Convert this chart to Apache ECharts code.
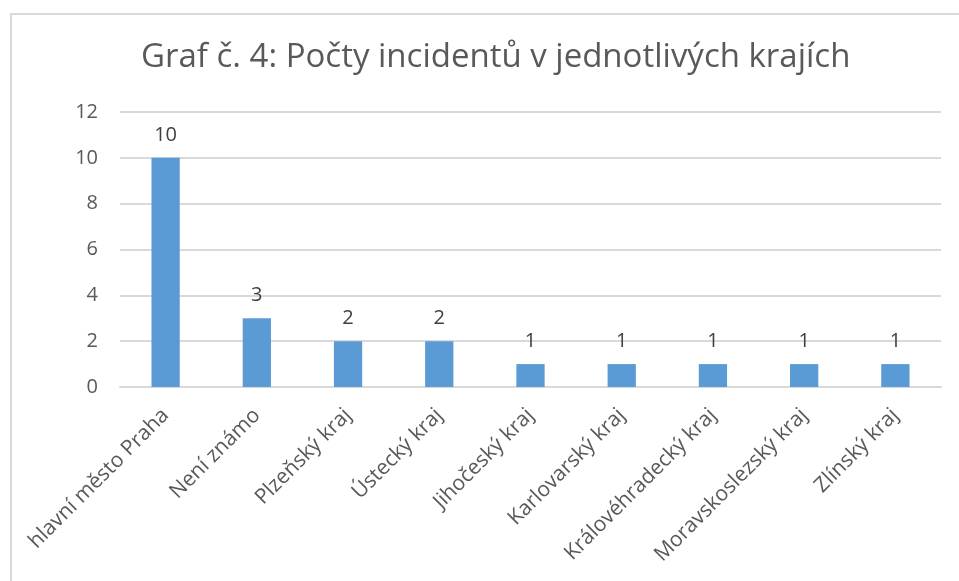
<!DOCTYPE html>
<html>
<head>
<meta charset="utf-8">
<script src="https://cdn.jsdelivr.net/npm/echarts@6/dist/echarts.min.js"></script>
<style>
  html, body { margin: 0; padding: 0; background: #fff; }
  #frame {
    position: absolute; left: 10px; top: 13px; width: 960px; height: 600px;
    border-left: 2px solid #d9d9d9; border-top: 2px solid #d9d9d9;
  }
  #chart { position: absolute; left: 0; top: 0; width: 959px; height: 581px; }
</style>
</head>
<body>
<div id="frame"></div>
<div id="chart"></div>
<script>
// kraje a počty incidentů
const kraje = ['hlavní město Praha', 'Není známo', 'Plzeňský kraj', 'Ústecký kraj', 'Jihočeský kraj',
  'Karlovarský kraj', 'Královéhradecký kraj', 'Moravskoslezský kraj', 'Zlínský kraj']
const pocty = [10, 3, 2, 2, 1, 1, 1, 1, 1]
const yMin = 0, yMax = 12, yStep = 2

const font = '"Open Sans", "Noto Sans", sans-serif'
const textColor = '#595959'

const chart = echarts.init(document.getElementById('chart'), null, { renderer: 'canvas' })
const option = {
  backgroundColor: 'transparent',
  animation: false,
  title: {
    text: 'Graf č. 4: Počty incidentů v jednotlivých krajích',
    left: 136,
    top: 36,
    textStyle: { fontFamily: font, fontSize: 33, fontWeight: 'normal', color: textColor }
  },
  grid: { left: 120, right: 18, top: 112, bottom: 194, containLabel: false },
  xAxis: {
    type: 'category',
    data: kraje,
    axisLine: { lineStyle: { color: '#d9d9d9', width: 2 } },
    axisTick: { show: false },
    axisLabel: {
      interval: 0, rotate: 45, margin: 25,
      fontFamily: font, fontSize: 21, color: textColor
    }
  },
  yAxis: {
    type: 'value',
    min: yMin, max: yMax, interval: yStep,
    axisLine: { show: false },
    axisTick: { show: false },
    splitLine: { lineStyle: { color: '#d9d9d9', width: 2 } },
    axisLabel: { margin: 22, fontFamily: font, fontSize: 20, color: textColor }
  },
  series: [{
    type: 'bar',
    data: pocty,
    barWidth: '31%',
    itemStyle: { color: '#5b9bd5' },
    label: {
      show: true, position: 'top', distance: 13,
      fontFamily: font, fontSize: 20, color: '#404040'
    }
  }]
}
chart.setOption(option)
</script>
</body>
</html>
